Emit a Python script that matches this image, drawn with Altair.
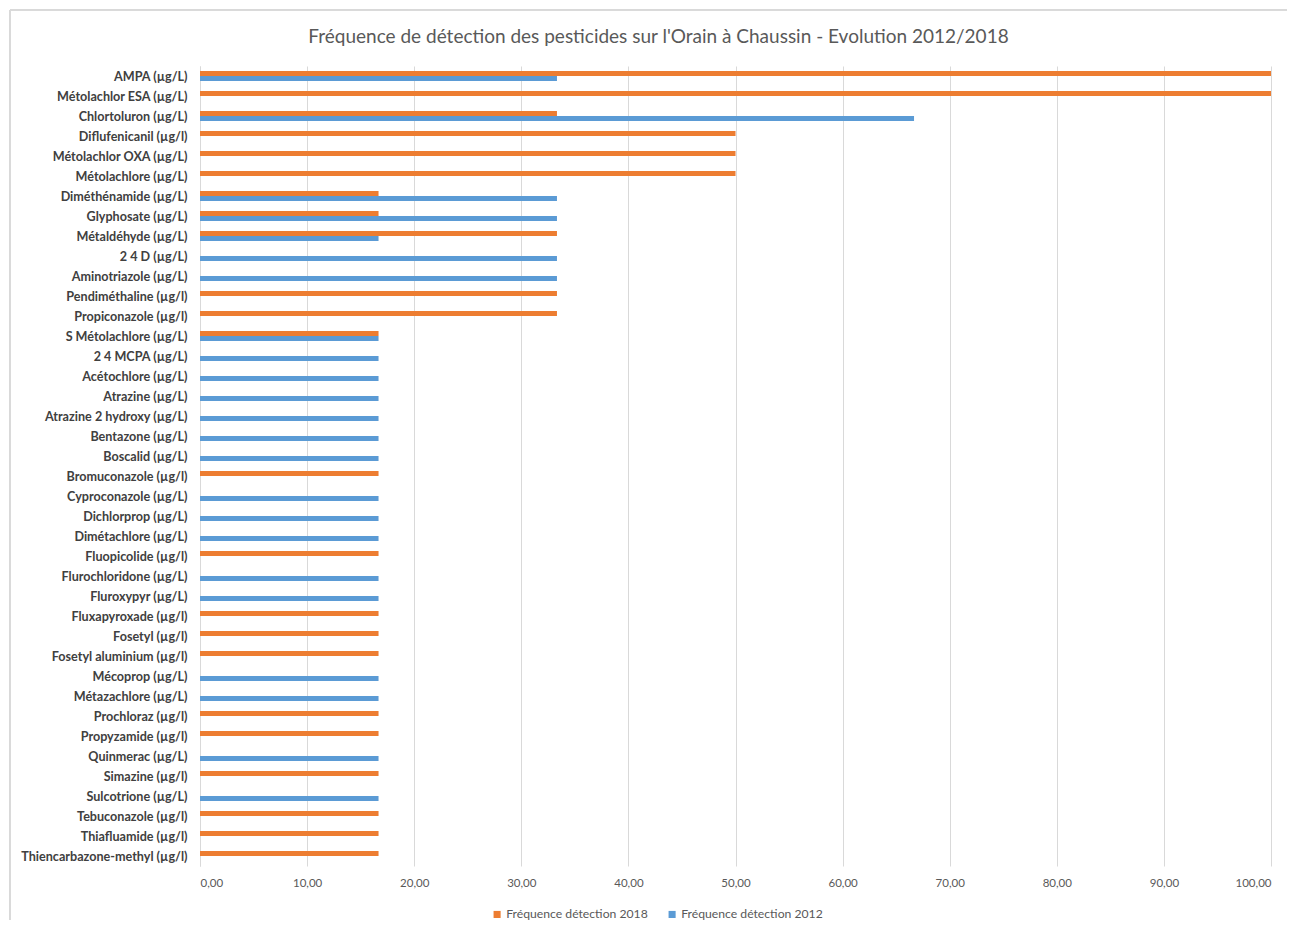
import altair as alt
import pandas as pd

categories = [
    "AMPA (µg/L)", "Métolachlor ESA (µg/L)", "Chlortoluron (µg/L)", "Diflufenicanil (µg/l)",
    "Métolachlor OXA (µg/L)", "Métolachlore (µg/L)", "Diméthénamide (µg/L)", "Glyphosate (µg/L)",
    "Métaldéhyde (µg/L)", "2 4 D (µg/L)", "Aminotriazole (µg/L)", "Pendiméthaline (µg/l)",
    "Propiconazole (µg/l)", "S Métolachlore (µg/L)", "2 4 MCPA (µg/L)", "Acétochlore (µg/L)",
    "Atrazine (µg/L)", "Atrazine 2 hydroxy (µg/L)", "Bentazone (µg/L)", "Boscalid (µg/L)",
    "Bromuconazole (µg/l)", "Cyproconazole (µg/L)", "Dichlorprop (µg/L)", "Dimétachlore (µg/L)",
    "Fluopicolide (µg/l)", "Flurochloridone (µg/L)", "Fluroxypyr (µg/L)", "Fluxapyroxade (µg/l)",
    "Fosetyl (µg/l)", "Fosetyl aluminium (µg/l)", "Mécoprop (µg/L)", "Métazachlore (µg/L)",
    "Prochloraz (µg/l)", "Propyzamide (µg/l)", "Quinmerac (µg/L)", "Simazine (µg/l)",
    "Sulcotrione (µg/L)", "Tebuconazole (µg/l)", "Thiafluamide (µg/l)", "Thiencarbazone-methyl (µg/l)",
]

freq_2018 = [
    100.0, 100.0, 33.33, 50.0,
    50.0, 50.0, 16.67, 16.67,
    33.33, 0, 0, 33.33,
    33.33, 16.67, 0, 0,
    0, 0, 0, 0,
    16.67, 0, 0, 0,
    16.67, 0, 0, 16.67,
    16.67, 16.67, 0, 0,
    16.67, 16.67, 0, 16.67,
    0, 16.67, 16.67, 16.67,
]

freq_2012 = [
    33.33, 0, 66.67, 0,
    0, 0, 33.33, 33.33,
    16.67, 33.33, 33.33, 0,
    0, 16.67, 16.67, 16.67,
    16.67, 16.67, 16.67, 16.67,
    0, 16.67, 16.67, 16.67,
    0, 16.67, 16.67, 0,
    0, 0, 16.67, 16.67,
    0, 0, 16.67, 0,
    16.67, 0, 0, 0,
]

series_names = ["Fréquence détection 2018", "Fréquence détection 2012"]
series_colors = ["#ED7D31", "#5B9BD5"]

rows = []
for c, a, b in zip(categories, freq_2018, freq_2012):
    if a > 0:
        rows.append({"cat": c, "serie": series_names[0], "val": a})
    if b > 0:
        rows.append({"cat": c, "serie": series_names[1], "val": b})
df = pd.DataFrame(rows)

W, H = 1071, 800
FONT = "Lato"

bars = alt.Chart(df).mark_bar().encode(
    y=alt.Y("cat:N", sort=categories,
            scale=alt.Scale(paddingInner=0.5, paddingOuter=0.25),
            axis=alt.Axis(title=None, labelFont=FONT, labelFontWeight="bold", labelFontSize=12.6,
                          labelColor="#404040", labelPadding=13, labelOffset=1, ticks=False,
                          domainColor="#d9d9d9", grid=False, labelLimit=400)),
    yOffset=alt.YOffset("serie:N", sort=series_names, scale=alt.Scale(domain=series_names)),
    x=alt.X("val:Q", scale=alt.Scale(domain=[0, 100], nice=False),
            axis=alt.Axis(title=None, values=list(range(0, 101, 10)),
                          labelExpr="replace(format(datum.value, '.2f'), '.', ',')",
                          labelFont=FONT, labelFontSize=11.5, labelColor="#595959",
                          labelPadding=11, ticks=False, domain=False,
                          grid=True, gridColor="#d9d9d9", gridWidth=1)),
    color=alt.Color("serie:N", sort=series_names,
                    scale=alt.Scale(domain=series_names, range=series_colors),
                    legend=alt.Legend(title=None, orient="none", direction="horizontal",
                                      legendX=291, legendY=842, symbolType="square",
                                      symbolSize=50, symbolStrokeWidth=0,
                                      labelFont=FONT, labelFontSize=12.2, labelColor="#595959",
                                      columnPadding=18, labelOffset=3)),
)

border = alt.Chart(df).mark_rect(fill=None, stroke="#d9d9d9", strokeWidth=1).encode(
    x=alt.value(-190), x2=alt.value(W + 40), y=alt.value(-56), y2=alt.value(H + 80)
)

chart = alt.layer(border, bars).properties(
    width=W, height=H,
    title=alt.TitleParams(
        "Fréquence de détection des pesticides sur l'Orain à Chaussin - Evolution 2012/2018",
        font=FONT, fontSize=19, fontWeight="normal", color="#595959",
        anchor="middle", dx=-77, offset=-37,
    ),
    autosize=alt.AutoSizeParams(type="none"),
    padding={"left": 192, "top": 58, "right": 16, "bottom": 54},
).configure_view(stroke=None)

chart.save("out.html", embed_options={"renderer": "svg", "actions": False})
